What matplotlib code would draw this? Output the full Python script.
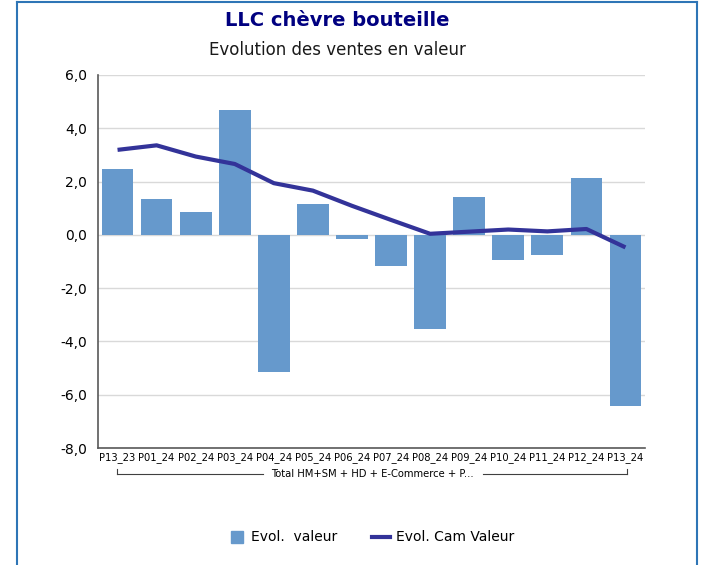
import matplotlib
matplotlib.use("Agg")
from matplotlib import pyplot as plt
from matplotlib.patches import Rectangle
from matplotlib.lines import Line2D
from matplotlib.ticker import FuncFormatter

periods = ["P13_23", "P01_24", "P02_24", "P03_24", "P04_24", "P05_24", "P06_24",
           "P07_24", "P08_24", "P09_24", "P10_24", "P11_24", "P12_24", "P13_24"]
evol_valeur = [2.47, 1.35, 0.86, 4.69, -5.13, 1.14, -0.14,
               -1.17, -3.52, 1.41, -0.95, -0.76, 2.13, -6.44]
evol_cam = [3.19, 3.36, 2.94, 2.66, 1.94, 1.66, 1.09,
            0.56, 0.04, 0.12, 0.20, 0.13, 0.22, -0.47]
group_label = "Total HM+SM + HD + E-Commerce + P..."

bar_color = "#6699cc"
line_color = "#333399"

fig = plt.figure(figsize=(7.06, 5.65), dpi=100)
ax = fig.add_axes([98/706, 1-448/565, 547/706, 373/565])

x = list(range(len(periods)))
ax.bar(x, evol_valeur, width=0.81, color=bar_color, zorder=2)
ax.plot(x, evol_cam, color=line_color, lw=3, zorder=3, solid_capstyle="butt")

ax.set_xlim(-0.5, len(periods) - 0.5)
ax.set_ylim(-8, 6)
ax.set_yticks(range(-8, 7, 2))
ax.yaxis.set_major_formatter(FuncFormatter(lambda v, p: ("%.1f" % v).replace(".", ",")))
ax.grid(axis="y", color="#d9d9d9", lw=1, zorder=0)
ax.set_xticks(x)
ax.set_xticklabels(periods, fontsize=7.2)
ax.tick_params(axis="x", length=0, pad=3)
ax.tick_params(axis="y", length=0, labelsize=10, pad=8)
for s in ["top", "right"]:
    ax.spines[s].set_visible(False)
for s in ["left", "bottom"]:
    ax.spines[s].set_color("#595959")
    ax.spines[s].set_linewidth(1.2)

# group bracket under the tick labels
yb = 1 - 474/565
x0, x1 = 117/706, 627/706
fig.add_artist(Line2D([x0, x0], [yb, yb + 5/565], color="#404040", lw=0.8))
fig.add_artist(Line2D([x1, x1], [yb, yb + 5/565], color="#404040", lw=0.8))
fig.add_artist(Line2D([x0, 263/706], [yb, yb], color="#404040", lw=0.8))
fig.add_artist(Line2D([483/706, x1], [yb, yb], color="#404040", lw=0.8))
fig.text(372/706, yb, group_label, ha="center", va="center", fontsize=7.2)

# titles
fig.text(337/706, 1-20/565, "LLC chèvre bouteille", ha="center", va="center",
         fontsize=14, fontweight="bold", color="#000080")
fig.text(337/706, 1-50/565, "Evolution des ventes en valeur", ha="center", va="center",
         fontsize=12, color="#1a1a1a")

# legend
ly = 1 - 537/565
fig.add_artist(Rectangle((231/706, ly - 6/565), 12/706, 12/565, color=bar_color,
                         transform=fig.transFigure))
fig.text(251/706, ly, "Evol.  valeur", va="center", fontsize=10)
fig.add_artist(Line2D([372/706, 390/706], [ly, ly], color=line_color, lw=3))
fig.text(396/706, ly, "Evol. Cam Valeur", va="center", fontsize=10)

# outer frame
fig.add_artist(Line2D([17/706, 17/706], [0, 1 - 2/565], color="#2e75b6", lw=1.5))
fig.add_artist(Line2D([17/706, 697/706], [1 - 2/565, 1 - 2/565], color="#2e75b6", lw=1.5))
fig.add_artist(Line2D([697/706, 697/706], [0, 1 - 2/565], color="#2e75b6", lw=1.5))

plt.savefig("out.png", dpi=100)
